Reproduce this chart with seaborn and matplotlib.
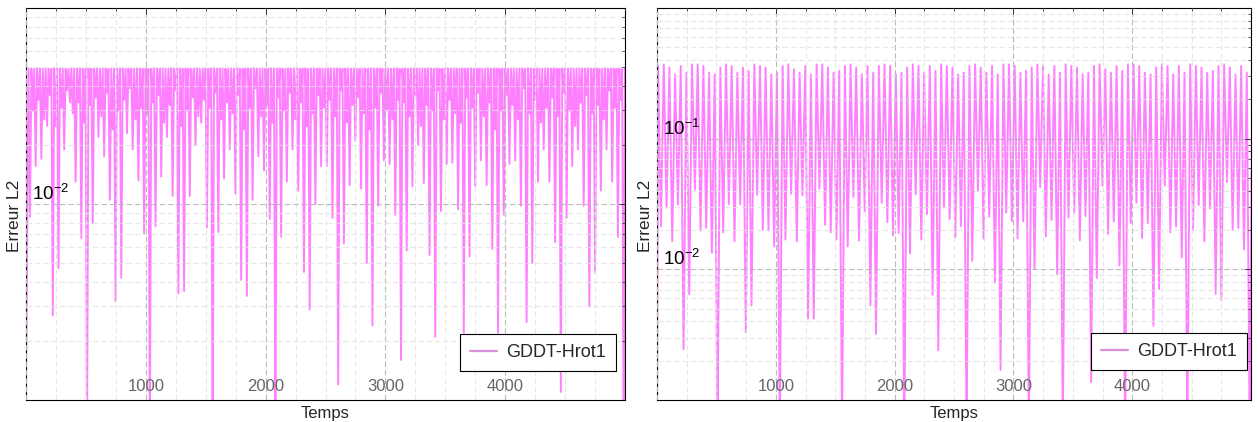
import numpy as np
import pandas as pd
import seaborn as sns
import matplotlib
matplotlib.use("Agg")
import matplotlib.pyplot as plt
from matplotlib.ticker import FixedLocator, LogLocator, MultipleLocator, LogFormatterSciNotation, NullFormatter

# --- donnees ---
# instants des creux (premier creux et periode d'oscillation)
t_first = 33.0
period = 47.65
t_start = 0.0

# panneau droit : creux et sommets
right_start = 0.0006
right_troughs = [0.0213, 0.0296, 0.0164, 0.0313, 0.00245, 0.00645, 0.0408, 0.0198, 0.0207, 0.0134, 0.0006,
                 0.0192, 0.0315, 0.0164, 0.0315, 0.0033, 0.0053, 0.0372, 0.0201, 0.0198, 0.0150, 0.0006,
                 0.0169, 0.0379, 0.0164, 0.0368, 0.0042, 0.0042, 0.0414, 0.0219, 0.0192, 0.0169, 0.0006,
                 0.0150, 0.0358, 0.0166, 0.0279, 0.0053, 0.0032, 0.0323, 0.0230, 0.0182, 0.0190, 0.0006,
                 0.0132, 0.0375, 0.0169, 0.0265, 0.0064, 0.0024, 0.0296, 0.0243, 0.0176, 0.0213, 0.0006,
                 0.0116, 0.0402, 0.0172, 0.0253, 0.0079, 0.0017, 0.0272, 0.0234, 0.0172, 0.0233, 0.0006,
                 0.0101, 0.0426, 0.0179, 0.0239, 0.0092, 0.0006, 0.0249, 0.0272, 0.0167, 0.0256, 0.00137,
                 0.0086, 0.0438, 0.0187, 0.0233, 0.0107, 0.0006, 0.0226, 0.0323, 0.0174, 0.0226, 0.0037,
                 0.0071, 0.0438, 0.0192, 0.0213, 0.0123, 0.0006, 0.0201, 0.0310, 0.0164, 0.0292, 0.0065,
                 0.0058, 0.0465, 0.0201, 0.0207, 0.0142, 0.0006]
right_peaks = [0.36, 0.37, 0.35, 0.31, 0.36, 0.32, 0.37, 0.37, 0.36, 0.32, 0.31,
               0.35, 0.37, 0.36, 0.32, 0.35, 0.33, 0.37, 0.36, 0.35, 0.31, 0.32,
               0.36, 0.37, 0.34, 0.32, 0.36, 0.31, 0.37, 0.37, 0.35, 0.32, 0.33,
               0.36, 0.37, 0.35, 0.31, 0.36, 0.32, 0.36, 0.37, 0.36, 0.31, 0.32,
               0.35, 0.37, 0.36, 0.32, 0.36, 0.33, 0.37, 0.36, 0.35, 0.31, 0.32,
               0.36, 0.37, 0.35, 0.32, 0.36, 0.31, 0.37, 0.37, 0.36, 0.32, 0.33,
               0.35, 0.37, 0.36, 0.31, 0.36, 0.32, 0.37, 0.36, 0.35, 0.31, 0.32,
               0.36, 0.37, 0.34, 0.32, 0.36, 0.33, 0.37, 0.37, 0.36, 0.32, 0.31,
               0.35, 0.37, 0.36, 0.31, 0.36, 0.32, 0.37, 0.36, 0.35, 0.32, 0.33,
               0.36, 0.37, 0.35, 0.31, 0.36, 0.32, 0.35]

# panneau gauche : pics profonds, creux de la bande, niveau des sommets
left_start = 0.0012
left_peak = 0.049
left_spikes = [0.0086, 0.0156, 0.017, 0.025, 0.0027, 0.0047, 0.019, 0.033, 0.013, 0.0067, 0.0006,
               0.008, 0.022, 0.0175, 0.0105, 0.0032, 0.0042, 0.023, 0.019, 0.0132, 0.0071, 0.0006,
               0.0077, 0.0138, 0.022, 0.011, 0.0035, 0.0036, 0.011, 0.020, 0.026, 0.0076, 0.0006,
               0.0072, 0.0135, 0.019, 0.0113, 0.0041, 0.0034, 0.0105, 0.0175, 0.0148, 0.0084, 0.0006,
               0.0068, 0.013, 0.019, 0.0117, 0.0045, 0.0029, 0.010, 0.0156, 0.0156, 0.0085, 0.0012,
               0.0063, 0.0125, 0.021, 0.012, 0.005, 0.0024, 0.0098, 0.0167, 0.016, 0.0088, 0.0016,
               0.0058, 0.0123, 0.020, 0.0128, 0.0055, 0.0021, 0.0092, 0.016, 0.0163, 0.0094, 0.0022,
               0.0054, 0.0124, 0.0167, 0.0125, 0.0059, 0.0022, 0.0088, 0.016, 0.0167, 0.0098, 0.0025,
               0.005, 0.013, 0.019, 0.013, 0.0064, 0.0011, 0.0085, 0.0156, 0.019, 0.0098, 0.003,
               0.0045, 0.0117, 0.019, 0.013, 0.0068, 0.0006]
left_band = [0.030, 0.034, 0.027, 0.036, 0.025, 0.031, 0.038, 0.029, 0.033, 0.026, 0.032,
             0.035, 0.028, 0.037, 0.024, 0.030, 0.034, 0.039, 0.027, 0.031, 0.029, 0.033,
             0.036, 0.026, 0.032, 0.038, 0.025, 0.030, 0.035, 0.028, 0.034, 0.031, 0.037,
             0.027, 0.033, 0.029, 0.036, 0.024, 0.031, 0.039, 0.028, 0.032, 0.026, 0.035,
             0.030, 0.037, 0.027, 0.033, 0.025, 0.029, 0.036, 0.031, 0.034, 0.028, 0.038,
             0.026, 0.032, 0.035, 0.029, 0.024, 0.031, 0.037, 0.030, 0.027, 0.034, 0.033,
             0.028, 0.036, 0.025, 0.032, 0.030, 0.038, 0.027, 0.034, 0.029, 0.026, 0.035,
             0.031, 0.037, 0.028, 0.033, 0.024, 0.030, 0.036, 0.032, 0.027, 0.039, 0.029,
             0.034, 0.026, 0.031, 0.035, 0.028, 0.037, 0.030, 0.025, 0.033, 0.036, 0.029,
             0.032, 0.027, 0.038, 0.031, 0.034, 0.030]

series_label = "GDDT-Hrot1"
line_color = "#ff80ff"

# --- assemblage des courbes ---
t_tr = t_first + period * np.arange(len(right_troughs))

rt = [t_start, t_first - period / 2]
rv = [right_start, right_peaks[0]]
for i, v in enumerate(right_troughs):
    rt += [t_tr[i], t_tr[i] + period / 2]
    rv += [v, right_peaks[i + 1]]
df_right = pd.DataFrame({"Temps": rt, "Erreur L2": rv})

lt = [t_start, t_first - period / 4]
lv = [left_start, left_peak]
for i, v in enumerate(left_spikes):
    lt += [t_tr[i], t_tr[i] + period / 4, t_tr[i] + period / 2, t_tr[i] + 3 * period / 4]
    lv += [v, left_peak, left_band[i], left_peak]
df_left = pd.DataFrame({"Temps": lt, "Erreur L2": lv})

sns.set_style("white")
plt.rcParams['font.family'] = ['Liberation Sans', 'DejaVu Sans']
plt.rcParams['mathtext.fontset'] = 'custom'
plt.rcParams['mathtext.rm'] = 'Liberation Sans'
plt.rcParams['mathtext.it'] = 'Liberation Sans:italic'
plt.rcParams['mathtext.default'] = 'regular'

fig = plt.figure(figsize=(12.58, 4.22), dpi=100)
W, H = 1258, 422
ax_l = fig.add_axes([26 / W, 22 / H, 599 / W, 392 / H])
ax_r = fig.add_axes([657 / W, 22 / H, 594 / W, 392 / H])

panels = [(ax_l, df_left, (1e-3, 1e-1), [1e-2], (0.985, 0.074)),
          (ax_r, df_right, (1e-3, 1.0), [1e-2, 1e-1], (0.993, 0.0765))]

for ax, df, ylim, yt, leg_pos in panels:
    sns.lineplot(data=df, x="Temps", y="Erreur L2", ax=ax, color=line_color,
                 lw=1.4, estimator=None, label=series_label, zorder=1)
    ax.set_yscale('log')
    ax.set_xlim(0, 5000)
    ax.set_ylim(*ylim)
    ax.set_axisbelow(False)

    ax.xaxis.set_major_locator(FixedLocator([1000, 2000, 3000, 4000]))
    ax.xaxis.set_minor_locator(MultipleLocator(250))
    ax.yaxis.set_major_locator(FixedLocator(yt))
    ax.yaxis.set_major_formatter(LogFormatterSciNotation())
    ax.yaxis.set_minor_locator(LogLocator(base=10, subs=np.arange(2, 10)))
    ax.yaxis.set_minor_formatter(NullFormatter())

    ax.grid(which='major', ls=(0, (5, 2.5)), color='#b4b4b4', lw=0.8, alpha=0.9)
    ax.grid(which='minor', ls=(0, (5, 2.5)), color='#e2e2e2', lw=0.8, alpha=0.8)

    ax.tick_params(which='both', direction='in', top=True, right=True, color='#333333')
    ax.tick_params(which='major', length=4, width=0.7)
    ax.tick_params(which='minor', length=2.5, width=0.6)
    ax.tick_params(axis='x', which='major', pad=-14.8, labelsize=12, labelcolor='#666666')
    ax.tick_params(axis='y', which='major', pad=-4.0, labelsize=13.5, labelcolor='black')
    plt.setp(ax.get_yticklabels(), ha='left', va='bottom')

    for s in ax.spines.values():
        s.set_color('black')
        s.set_linewidth(0.8)

    ax.set_xlabel("Temps", fontsize=12, labelpad=1)
    ax.set_ylabel("Erreur L2", fontsize=12.5, labelpad=2)
    ax.yaxis.set_label_coords(-0.007, 0.47)

    leg = ax.legend(loc='lower right', bbox_to_anchor=leg_pos, borderaxespad=0,
                    fontsize=13, fancybox=False, framealpha=1, edgecolor='black',
                    handlelength=1.5, handletextpad=0.5, borderpad=0.55)
    leg.get_frame().set_linewidth(0.8)
    leg.get_lines()[0].set_color('#d98fd9')
    leg.get_lines()[0].set_linewidth(1.6)
    leg.set_zorder(5)

fig.savefig("out.png", dpi=100)
